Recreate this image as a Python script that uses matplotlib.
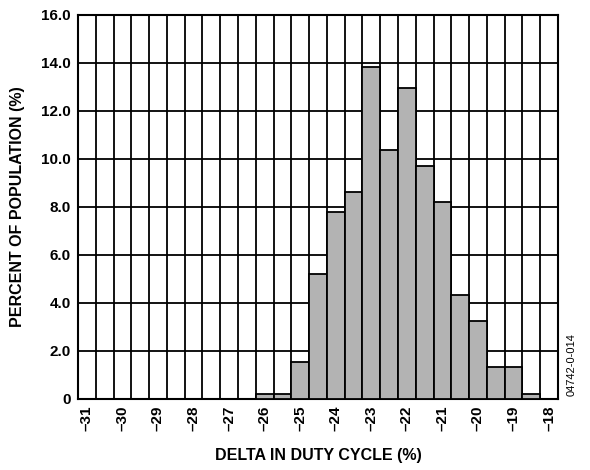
import matplotlib
matplotlib.use("Agg")
import matplotlib.pyplot as plt

# bin centres (width 0.5) and percent of population
delta = [-26.0, -25.5, -25.0, -24.5, -24.0, -23.5, -23.0, -22.5,
         -22.0, -21.5, -21.0, -20.5, -20.0, -19.5, -19.0, -18.5]
percent = [0.22, 0.22, 1.54, 5.22, 7.79, 8.63, 13.82, 10.36,
           12.96, 9.72, 8.2, 4.33, 3.27, 1.32, 1.32, 0.22]

xticks = list(range(-31, -17))
yticks = [0, 2, 4, 6, 8, 10, 12, 14, 16]

plt.rcParams['font.family'] = ['Liberation Sans', 'DejaVu Sans']

fig = plt.figure(figsize=(5.9, 4.7), dpi=100)
ax = fig.add_axes([78/590, 1 - 399/470, 480/590, 384/470])

ax.bar(delta, percent, width=0.5, color='#b3b3b3', edgecolor='black',
       linewidth=1.3, zorder=3)

ax.set_xlim(-31.25, -17.75)
ax.set_ylim(0, 16)

# grid every half unit on x, every 2 on y
for k in range(28):
    ax.axvline(-31.25 + 0.5 * k, color='black', linewidth=1.3, zorder=1)
for v in yticks:
    ax.axhline(v, color='black', linewidth=1.3, zorder=1)

ax.set_xticks(xticks)
ax.set_xticklabels([str(t).replace('-', '\u2013') for t in xticks],
                   rotation=90, fontsize=11, fontweight='bold')
ax.set_yticks(yticks)
ax.set_yticklabels(['0' if v == 0 else '%.1f' % v for v in yticks],
                   fontsize=11, fontweight='bold')
ax.tick_params(length=0, pad=5)
for s in ax.spines.values():
    s.set_linewidth(1.5)

ax.set_xlabel('DELTA IN DUTY CYCLE (%)', fontsize=11.5, fontweight='bold', labelpad=12)
ax.set_ylabel('PERCENT OF POPULATION (%)', fontsize=11.5, fontweight='bold', labelpad=12)

fig.text(572/590, 1 - 365/470, '04742-0-014', rotation=90, fontsize=8,
         ha='center', va='center')

fig.savefig('out.png', dpi=100)
